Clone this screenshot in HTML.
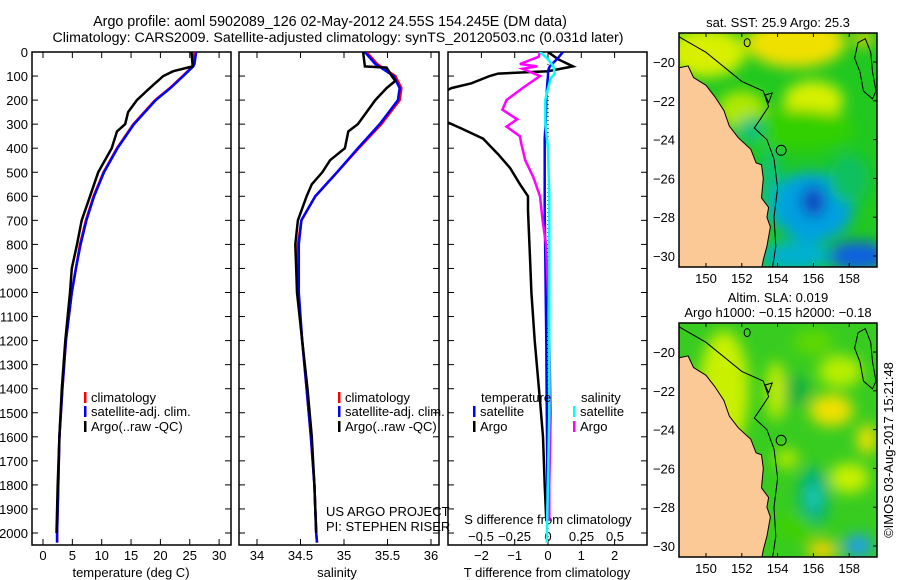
<!DOCTYPE html>
<html><head><meta charset="utf-8"><style>
html,body{margin:0;padding:0;background:#fff;}
svg{display:block;font-family:"Liberation Sans",sans-serif;font-size:13px;}
</style></head><body>
<svg id="c" width="900" height="580" viewBox="0 0 900 580" xmlns="http://www.w3.org/2000/svg">
<defs>
<clipPath id="cp1"><rect x="32" y="52" width="199" height="493"/></clipPath>
<clipPath id="cp2"><rect x="239" y="52" width="200" height="493"/></clipPath>
<clipPath id="cp3"><rect x="448" y="52" width="199" height="493"/></clipPath>
<clipPath id="cm1"><rect x="679" y="33" width="198" height="234"/></clipPath>
<clipPath id="cm2"><rect x="679" y="323" width="198" height="234"/></clipPath>
<filter id="bl" x="-50%" y="-50%" width="200%" height="200%"><feGaussianBlur stdDeviation="7"/></filter>
</defs>
<text x="330" y="26" text-anchor="middle" style="font-size:14.3px">Argo profile: aoml 5902089_126 02-May-2012 24.55S 154.245E (DM data)</text>
<text x="338" y="42" text-anchor="middle" style="font-size:14.2px">Climatology: CARS2009. Satellite-adjusted climatology: synTS_20120503.nc (0.031d later)</text>
<g id="g"></g>
<text transform="translate(893,450) rotate(-90)" text-anchor="middle">©IMOS 03-Aug-2017 15:21:48</text>
</svg>
<script>
// ---- data ----
const tDepth=[0,50,60,100,150,200,300,400,500,600,700,800,900,1000,1200,1400,1600,1800,2000,2040];
const tClim=[25.8,25.6,25.5,23.8,21.6,19.1,15.4,12.6,10.3,8.6,7.3,6.3,5.6,4.9,3.9,3.3,2.8,2.6,2.4,2.4];
const tSat=[26.1,25.8,25.6,23.9,21.7,19.2,15.5,12.7,10.4,8.7,7.4,6.4,5.6,4.9,3.9,3.3,2.8,2.6,2.4,2.4];
const argoDepth=[0,60,80,100,150,200,250,300,330,400,500,600,700,800,900,1000,1200,1400,1600,1800,2000];
const tArgo=[25.3,25.5,22.2,20.5,18.2,16.0,14.5,14.0,12.6,11.7,9.4,8.0,6.6,5.8,4.9,4.6,3.8,3.2,2.8,2.5,2.3];
const sDepth=[0,50,100,150,200,300,400,500,600,700,800,900,1000,1200,1400,1600,1800,2000,2040];
const sClim=[35.26,35.38,35.59,35.66,35.64,35.43,35.17,34.92,34.67,34.51,34.47,34.47,34.47,34.52,34.57,34.62,34.66,34.68,34.69];
const sSat=[35.24,35.36,35.57,35.64,35.62,35.41,35.16,34.92,34.67,34.51,34.48,34.48,34.48,34.52,34.57,34.62,34.66,34.68,34.69];
const sArgoDepth=[0,60,65,100,120,150,200,250,300,330,400,450,500,550,600,700,800,900,1000,1200,1400,1600,1800,2000];
const sArgo=[35.22,35.24,35.49,35.55,35.59,35.49,35.36,35.26,35.16,35.05,35.01,34.84,34.75,34.63,34.57,34.47,34.44,34.45,34.46,34.52,34.58,34.63,34.66,34.68];
const dDepth=[0,30,60,80,90,100,130,150,200,262,318,360,425,482,550,600,660,855,1000,1200,1450,1600,1800,1950];
const dTArgo=[0,0.3,0.75,0,-1.5,-1.75,-2.3,-2.9,-3.6,-3.5,-2.6,-1.95,-1.5,-1.14,-0.84,-0.6,-0.6,-0.54,-0.5,-0.4,-0.24,-0.15,-0.1,-0.05];
const dTSat=[0.45,0.27,0.05,0,0,0,-0.02,-0.03,-0.05,-0.06,-0.08,-0.1,-0.1,-0.1,-0.1,-0.1,-0.1,-0.08,-0.07,-0.05,-0.04,-0.03,-0.02,-0.01];
const dSDepth=[0,20,50,60,70,100,150,200,240,280,310,350,380,450,520,600,700,800,1000,1200,1500,1800,1950];
const dSArgo=[-0.06,-0.07,-0.21,-0.08,-0.19,-0.06,-0.19,-0.31,-0.34,-0.23,-0.31,-0.21,-0.2,-0.17,-0.11,-0.06,-0.04,-0.015,0,0.01,0.02,0.01,0.01];
const dSSatDepth=[0,30,60,90,110,150,200,300,400,600,1000,1500,2040];
const dSSat=[-0.06,0,0.04,0.05,0.02,0,-0.02,-0.02,0,0.01,0.01,0.01,-0.01];
const depthTicks=[0,100,200,300,400,500,600,700,800,900,1000,1100,1200,1300,1400,1500,1600,1700,1800,1900,2000];
const tTicks=[0,5,10,15,20,25,30];
const sTicks=[34,34.5,35,35.5,36];
const sTickLabels=["34","34.5","35","35.5","36"];
const dTTicks=[-2,-1,0,1,2];
const dSTicks=[-0.5,-0.25,0,0.25,0.5];
const dSTickLabels=["\u22120.5","\u22120.25","0","0.25","0.5"];
const lonTicks=[150,152,154,156,158];
const latTicks=[-20,-22,-24,-26,-28,-30];

// ---- axes ----
const yD=d=>52+d*0.2405;
const xT=t=>43+t*5.87;
const xS=s=>257+(s-34)*87;
const xDT=t=>548+t*33.3;
const xDS=s=>548+s*134;
const NS="http://www.w3.org/2000/svg";
const G=document.getElementById('g');
function el(tag,attrs,parent){const e=document.createElementNS(NS,tag);for(const k in attrs)e.setAttribute(k,attrs[k]);(parent||G).appendChild(e);return e;}
function txt(x,y,s,anchor,parent){const e=el('text',{x:x,y:y,'text-anchor':anchor||'middle'},parent);e.textContent=s;return e;}
function line(xs,ds,xf,color,clip,name){
  const pts=xs.map((v,i)=>xf(v).toFixed(1)+','+yD(ds[i]).toFixed(1)).join(' ');
  const p=el('polyline',{points:pts,fill:'none',stroke:color,'stroke-width':2.5,'clip-path':'url(#'+clip+')'});
  
  
}
const panels=[[32,231,'temperature-panel'],[239,439,'salinity-panel'],[448,647,'difference-panel']];
panels.forEach(([x0,x1,n])=>{
  const r=el('rect',{x:x0,y:52,width:x1-x0,height:493,fill:'#fff',stroke:'#000','stroke-width':1.5});
  
  
  depthTicks.forEach(d=>{el('line',{x1:x0,x2:x0+6,y1:yD(d),y2:yD(d),stroke:'#000'});el('line',{x1:x1-6,x2:x1,y1:yD(d),y2:yD(d),stroke:'#000'});});
});
depthTicks.forEach(d=>{const t=txt(28,yD(d)+5,String(d),'end');});
tTicks.forEach(v=>{const x=xT(v);el('line',{x1:x,x2:x,y1:52,y2:58,stroke:'#000'});el('line',{x1:x,x2:x,y1:539,y2:545,stroke:'#000'});const t=txt(x,560,String(v));});
sTicks.forEach((v,i)=>{const x=xS(v);el('line',{x1:x,x2:x,y1:52,y2:58,stroke:'#000'});el('line',{x1:x,x2:x,y1:539,y2:545,stroke:'#000'});const t=txt(x,560,sTickLabels[i]);});
dTTicks.forEach(v=>{const x=xDT(v);el('line',{x1:x,x2:x,y1:52,y2:58,stroke:'#000'});el('line',{x1:x,x2:x,y1:539,y2:545,stroke:'#000'});const t=txt(x,560,v<0?'\u2212'+(-v):String(v));});
dSTicks.forEach((v,i)=>{const t=txt(xDS(v),541,dSTickLabels[i]);});
let a=txt(131,577,'temperature (deg C)');
a=txt(337,577,'salinity');
a=txt(547,577,'T difference from climatology');
a=txt(548,524,'S difference from climatology');
el('line',{x1:548,x2:548,y1:52,y2:545,stroke:'#000','stroke-dasharray':'1,3'});

line(tClim,tDepth,xT,'#f00','cp1','temp-climatology-line');
line(tSat,tDepth,xT,'#00f','cp1','temp-satellite-line');
line(tArgo,argoDepth,xT,'#000','cp1','temp-argo-line');
line(sClim,sDepth,xS,'#f00','cp2','sal-climatology-line');
line(sSat,sDepth,xS,'#00f','cp2','sal-satellite-line');
line(sArgo,sArgoDepth,xS,'#000','cp2','sal-argo-line');
line(dTArgo,dDepth,xDT,'#000','cp3','tdiff-argo-line');
line(dTSat,dDepth,xDT,'#00f','cp3','tdiff-satellite-line');
line(dSArgo,dSDepth,xDS,'#f0f','cp3','sdiff-argo-line');
line(dSSat,dSSatDepth,xDS,'#0ff','cp3','sdiff-satellite-line');

function legend(x,y,color,label,name){const g=el('g',{});el('rect',{x:x,y:y-10,width:2.5,height:11,fill:color},g);txt(x+7,y,label,'start',g);}
[[84,'climatology-legend'],[338,'sal-climatology-legend']].forEach(([x,n])=>{
 legend(x,402,'#f00','climatology',n);legend(x,416,'#00f','satellite-adj. clim.',n.replace('climatology','satellite'));legend(x,431,'#000','Argo(..raw -QC)',n.replace('climatology','argo'));});
a=txt(481,402,'temperature','start');
a=txt(581,402,'salinity','start');
legend(473,416,'#00f','satellite','legend-t-satellite');legend(473,431,'#000','Argo','legend-t-argo');
legend(573,416,'#0ff','satellite','legend-s-satellite');legend(573,431,'#f0f','Argo','legend-s-argo');
a=txt(326,516,'US ARGO PROJECT','start');
a=txt(326,531,'PI: STEPHEN RISER','start');

// ---- maps ----
const mx=lon=>706+(lon-150)*17.9;
const my=(lat,y0)=>y0+(-20-lat)*19.4;
const coast=[[148.5,-20.3],[149,-20.2],[149.3,-20.8],[150,-21.2],[150.5,-21.8],[151,-22.5],[151.3,-23.3],[151.8,-23.9],[152.5,-24.5],[152.8,-25.2],[153.1,-25.3],[153.2,-26],[153.1,-27],[153.5,-27.5],[153.4,-28],[153.6,-28.5],[153.4,-29.5],[153.2,-30.2],[153.1,-30.7],[148.4,-30.7]];
const iso=[[148.5,-18.7],[150,-19.5],[152,-21],[153.2,-21.5],[153.5,-22.3],[153,-23],[152.7,-23.4],[153.4,-24],[153.8,-25],[154,-26.5],[153.8,-28],[153.9,-29.5],[153.7,-30.7]];
const reef=[[158.5,-19],[158.9,-18.8],[159.2,-19.5],[159.3,-20.5],[159.5,-21.5],[159.3,-21.9],[158.8,-21.5],[158.6,-20.5],[158.3,-19.8]];
function map(y0,clip,blobs,bg,title,name){
  const g=el('g',{'clip-path':'url(#'+clip+')'});
  
  
  el('rect',{x:679,y:y0-29,width:198,height:234,fill:bg},g);
  const fg=el('g',{filter:'url(#bl)'},g);
  blobs.forEach(b=>el('ellipse',{cx:mx(b[0]),cy:my(b[1],y0),rx:b[2],ry:b[3],fill:b[4]},fg));
  const pc=p=>p.map(q=>mx(q[0]).toFixed(1)+','+my(q[1],y0).toFixed(1)).join(' ');
  el('polygon',{points:pc(coast),fill:'#fbc995',stroke:'#000','stroke-width':1},g);
  el('polyline',{points:pc(iso),fill:'none',stroke:'#000','stroke-width':1},g);
  el('polygon',{points:pc(reef),fill:'none',stroke:'#000','stroke-width':1},g);
  el('ellipse',{cx:mx(152.3),cy:my(-19,y0),rx:3,ry:4,fill:'none',stroke:'#000'},g);
  el('polygon',{points:pc([[153.3,-21.7],[153.7,-21.6],[153.5,-22.1]]),fill:'none',stroke:'#000'},g);
  el('circle',{cx:mx(154.2),cy:my(-24.55,y0),r:5,fill:'none',stroke:'#000'},g);
  el('rect',{x:679,y:y0-29,width:198,height:234,fill:'none',stroke:'#000','stroke-width':1.5});
  lonTicks.forEach(l=>{el('line',{x1:mx(l),x2:mx(l),y1:y0-29,y2:y0-25,stroke:'#000'});el('line',{x1:mx(l),x2:mx(l),y1:y0+201,y2:y0+205,stroke:'#000'});const t=txt(mx(l),y0+221,String(l));});
  latTicks.forEach(l=>{el('line',{x1:873,x2:877,y1:my(l,y0),y2:my(l,y0),stroke:'#000'});const t=txt(675,my(l,y0)+5,'\u2212'+(-l),'end');});
  title.forEach((s,i)=>{const t=txt(778,y0-35-(title.length-1-i)*15,s);});
}
map(62,'cm1',[
 [150,-19.5,40,25,'#d8f000'],[155,-19,50,25,'#f0e000'],[156,-22,30,20,'#d8f000'],[152,-22.5,25,20,'#b0e800'],
 [155,-23.5,60,20,'#30d000'],[152.5,-23.5,14,12,'#10c080'],[153.6,-26.5,10,40,'#10c080'],[155.5,-27,30,25,'#00b0d0'],
 [156,-27.5,40,35,'#00a0e0'],[156,-27.2,12,15,'#1040c0'],
 [158,-26,20,25,'#10c060'],[158.5,-30,30,15,'#1060e0'],[155,-30,35,15,'#00b0d0'],[158.8,-18.8,10,8,'#f0d000']
],'#20c820',['sat. SST: 25.9 Argo: 25.3'],'sst-map');
map(352,'cm2',[
 [151,-22,25,60,'#c8f000'],[157,-23,22,16,'#f0e000'],[155,-22,15,15,'#10b040'],[156,-27.5,15,30,'#00b080'],
 [156,-27.5,6,12,'#20d0c0'],[157.5,-21,22,16,'#b8ee00'],[159,-24.5,10,15,'#f0e000'],[156.5,-30.2,15,10,'#f0d000'],
 [158.5,-30,15,12,'#20a0e0'],[158,-26.5,20,15,'#c8f000'],[155,-29,20,12,'#40d000'],[153.9,-22,10,30,'#c0ec00'],
 [154.5,-25.5,12,10,'#b0e800'],[156,-19.5,20,12,'#60d800']
],'#38cc20',['Altim. SLA: 0.019','Argo h1000: \u22120.15 h2000: \u22120.18'],'sla-map');
</script>
</body></html>
